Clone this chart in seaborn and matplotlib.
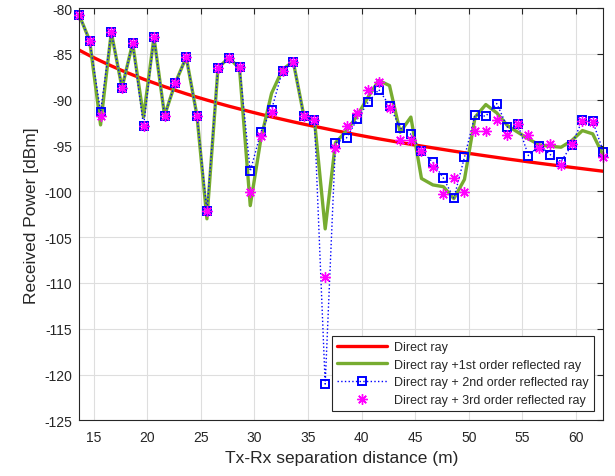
import matplotlib
matplotlib.use("Agg")
import matplotlib.pyplot as plt
import seaborn as sns
import pandas as pd

# Tx-Rx separation distance (m)
distance = [13.67, 14.63, 15.65, 16.65, 17.65, 18.64, 19.66, 20.63, 21.62, 22.62,
            23.64, 24.64, 25.57, 26.60, 27.62, 28.61, 29.61, 30.60, 31.60, 32.62,
            33.62, 34.61, 35.60, 36.60, 37.56, 38.59, 39.61, 40.61, 41.60, 42.60,
            43.59, 44.59, 45.58, 46.64, 47.63, 48.60, 49.59, 50.58, 51.58, 52.60,
            53.60, 54.56, 55.55, 56.58, 57.58, 58.60, 59.60, 60.59, 61.55, 62.54]

direct = [-84.60, -85.19, -85.77, -86.31, -86.82, -87.29, -87.76, -88.17, -88.58, -88.97,
          -89.36, -89.72, -90.04, -90.38, -90.71, -91.01, -91.31, -91.60, -91.88, -92.15,
          -92.42, -92.67, -92.91, -93.15, -93.38, -93.61, -93.84, -94.06, -94.27, -94.47,
          -94.67, -94.87, -95.06, -95.26, -95.44, -95.62, -95.79, -95.96, -96.13, -96.30,
          -96.47, -96.62, -96.78, -96.94, -97.09, -97.24, -97.39, -97.53, -97.67, -97.81]

first_order = [-80.8, -83.55, -92.75, -82.63, -88.71, -83.83, -91.9, -83.18, -91.74, -88.17,
               -85.36, -91.74, -103.0, -86.56, -85.4, -86.6, -101.56, -94.3, -89.3, -86.7,
               -85.84, -91.77, -92.24, -104.1, -94.7, -93.4, -91.7, -89.7, -87.9, -88.46,
               -93.55, -91.9, -98.6, -99.3, -99.5, -100.8, -98.7, -91.9, -90.53, -91.44,
               -92.83, -93.55, -94.28, -94.93, -95.08, -95.19, -94.46, -93.37, -93.73, -96.1]

second_order = [-80.8, -83.55, -91.3, -82.63, -88.71, -83.83, -92.89, -83.18, -91.74, -88.17,
                -85.36, -91.74, -102.17, -86.56, -85.44, -86.42, -97.81, -93.55, -91.08, -86.82,
                -85.84, -91.77, -92.24, -121.04, -94.72, -94.17, -92.1, -90.27, -88.9, -90.64,
                -93.08, -93.77, -95.6, -96.83, -98.57, -100.75, -96.28, -91.66, -91.8, -90.42,
                -93.0, -92.64, -96.1, -95.01, -95.99, -96.76, -94.93, -92.21, -92.35, -95.67]

third_order = [-80.8, -83.55, -91.8, -82.63, -88.71, -83.83, -92.89, -83.18, -91.74, -88.17,
               -85.36, -91.74, -102.17, -86.56, -85.44, -86.42, -100.03, -93.98, -91.3, -86.82,
               -85.84, -91.77, -92.24, -109.31, -95.3, -92.9, -91.47, -88.9, -88.02, -90.93,
               -94.36, -94.39, -95.55, -97.4, -100.28, -98.5, -100.1, -93.37, -93.37, -92.2,
               -93.84, -92.7, -93.84, -95.3, -94.83, -97.12, -94.83, -92.28, -92.4, -96.28]

labels = ["Direct ray",
          "Direct ray +1st order reflected ray",
          "Direct ray + 2nd order reflected ray",
          "Direct ray + 3rd order reflected ray"]

df = pd.DataFrame({"d": distance, "direct": direct, "r1": first_order,
                   "r2": second_order, "r3": third_order})

sns.set_theme(style="white")
plt.rcParams['font.family'] = ['Liberation Sans', 'DejaVu Sans']
plt.rcParams['axes.unicode_minus'] = False

axis_col = "#262626"
fig, ax = plt.subplots(figsize=(6.15, 4.77), dpi=100)
fig.subplots_adjust(left=0.129, right=0.981, top=0.981, bottom=0.1166)

sns.lineplot(data=df, x="d", y="direct", ax=ax, color="#ff0000", linewidth=2.4,
             label=labels[0], sort=False)
sns.lineplot(data=df, x="d", y="r1", ax=ax, color="#77ac30", linewidth=2.4,
             label=labels[1], sort=False)
sns.lineplot(data=df, x="d", y="r2", ax=ax, color="#0000ff", linewidth=1.0,
             linestyle=":", marker="s", markersize=6.3, markerfacecolor="none",
             markeredgecolor="#0000ff", markeredgewidth=1.4, label=labels[2],
             sort=False, clip_on=False)
sns.lineplot(data=df, x="d", y="r3", ax=ax, color="#ff00ff", linestyle="none",
             marker=(8, 2, 0), markersize=7.5, markeredgewidth=1.0,
             markeredgecolor="#ff00ff", label=labels[3], sort=False, clip_on=False)

ax.set_xlim(distance[0], distance[-1])
ax.set_ylim(-125, -80)
ax.set_xticks(range(15, 61, 5))
ax.set_yticks(range(-125, -79, 5))

ax.grid(True, color="#dedede", linewidth=0.8)
ax.set_axisbelow(True)
for s in ax.spines.values():
    s.set_color(axis_col)
    s.set_linewidth(0.8)
ax.tick_params(direction="in", top=True, right=True, length=4, width=0.8,
               colors=axis_col, labelsize=10, pad=5)
ax.tick_params(axis="x", pad=7)

ax.set_xlabel("Tx-Rx separation distance (m)", fontsize=12.5, color=axis_col, labelpad=4)
ax.set_ylabel("Received Power [dBm]", fontsize=12.5, color=axis_col, labelpad=4)

leg = ax.legend(loc="lower right", fontsize=9, frameon=True, fancybox=False,
                handlelength=4.0, borderaxespad=0.75, labelspacing=0.45,
                borderpad=0.4, handletextpad=0.6)
leg.get_frame().set_edgecolor(axis_col)
leg.get_frame().set_linewidth(0.8)
leg.get_frame().set_alpha(1)

fig.savefig("out.png", dpi=100)
